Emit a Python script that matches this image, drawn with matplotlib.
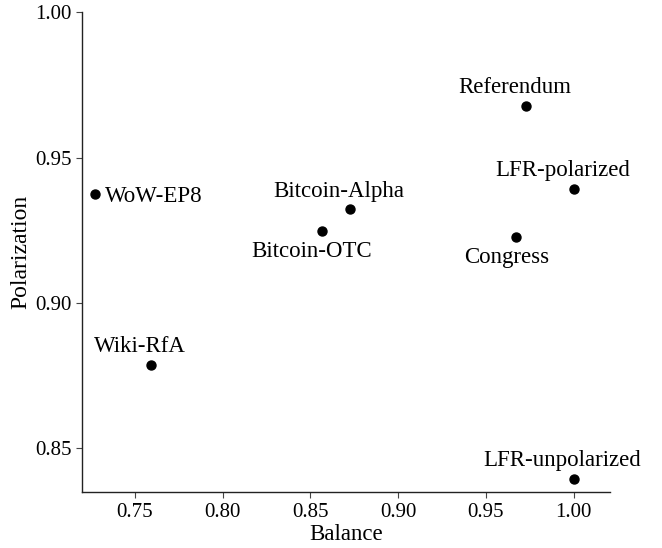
import matplotlib
matplotlib.use("Agg")

import matplotlib.pyplot as plt


names = [
    "WoW-EP8", "Wiki-RfA", "Bitcoin-OTC", "Bitcoin-Alpha",
    "Referendum", "LFR-polarized", "Congress", "LFR-unpolarized"
]
balance = [0.7276, 0.7591, 0.8564, 0.8725, 0.9728, 1.000, 0.9671, 1.000]
polarization = [0.9374, 0.8787, 0.9248, 0.9322, 0.9678, 0.9393, 0.9228, 0.8396]
# where each label sits relative to its dot
placement = ["right", "above", "below", "above", "above", "above", "below", "above"]

x_ticks = [0.75, 0.80, 0.85, 0.90, 0.95, 1.00]
y_ticks = [0.85, 0.90, 0.95, 1.00]

plt.rcParams["font.family"] = ["Liberation Serif", "DejaVu Serif"]

fig = plt.figure(figsize=(6.62, 5.48), dpi=100)
ax = fig.add_axes([0.124, 0.102, 0.797, 0.876])

ax.scatter(balance, polarization, s=42, color="black", zorder=3)

offsets = {
    "above": ((-8, 13), "center"),
    "below": ((-7, -15), "center"),
    "right": ((7, -2), "left"),
}

for name, x, y, where in zip(names, balance, polarization, placement):
    (dx, dy), ha = offsets[where]
    ax.annotate(
        name,
        (x, y),
        xytext=(dx, dy),
        textcoords="offset points",
        ha=ha,
        va="center",
        fontsize=16.5
    )

ax.set_xlim(0.72, 1.0205)
ax.set_ylim(0.835, 1.0)
ax.set_xticks(x_ticks)
ax.set_yticks(y_ticks)
ax.set_xticklabels([f"{t:.2f}" for t in x_ticks])
ax.set_yticklabels([f"{t:.2f}" for t in y_ticks])

ax.spines["top"].set_visible(False)
ax.spines["right"].set_visible(False)
for side in ["left", "bottom"]:
    ax.spines[side].set_linewidth(1.0)
    ax.spines[side].set_color("#222222")

ax.tick_params(labelsize=15, length=4, width=0.8, color="#444444")

ax.set_xlabel("Balance", fontsize=16.5, labelpad=2)
ax.set_ylabel("Polarization", fontsize=17, labelpad=3)

fig.savefig("out.png", dpi=100)
plt.close(fig)
